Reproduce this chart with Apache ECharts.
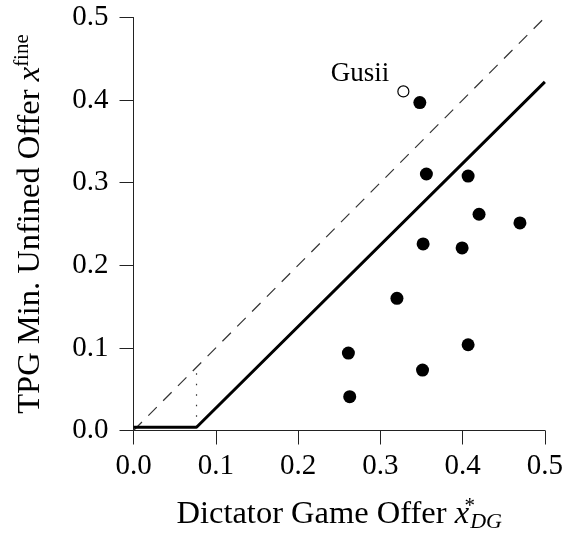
<!DOCTYPE html>
<html><head><meta charset="utf-8">
<script src="https://cdn.jsdelivr.net/npm/echarts@6/dist/echarts.min.js"></script>
<style>html,body{margin:0;padding:0;background:#fff}#c{width:566px;height:540px}</style>
</head><body><div id="c"></div>
<script>
// Data
const societyPoints = [
  [0.348, 0.397], [0.356, 0.3105], [0.4067, 0.308], [0.420, 0.2618],
  [0.4697, 0.2513], [0.352, 0.2259], [0.3994, 0.221], [0.3202, 0.160],
  [0.2612, 0.0937], [0.4067, 0.1038], [0.3513, 0.0732], [0.2628, 0.0409]
];
const gusiiPoint = [[0.328, 0.4105]];
const gusiiLabel = 'Gusii';
const equalityLine = [[0, 0], [0.5, 0.5]];
const predictedLine = [[0, 0.004], [0.0766, 0.004], [0.5, 0.422]];
const thresholdLine = [[0.0766, 0.004], [0.0766, 0.077]];
const axisMin = 0, axisMax = 0.5, axisStep = 0.1;

const FONT = 'Liberation Serif';
const INK = '#000';
const chart = echarts.init(document.getElementById('c'), null, {renderer: 'canvas'});
const axisCommon = {
  type: 'value', min: axisMin, max: axisMax, interval: axisStep,
  axisLine: {show: true, lineStyle: {color: '#222', width: 1}},
  axisTick: {show: true, inside: false, length: 14, lineStyle: {color: '#222', width: 1}},
  splitLine: {show: false},
  axisLabel: {fontFamily: FONT, fontSize: 29, color: INK, formatter: v => v.toFixed(1)}
};
chart.setOption({
  animation: false,
  backgroundColor: '#fff',
  grid: {left: 133.5, right: 20, top: 17.5, bottom: 109.5, containLabel: false},
  xAxis: Object.assign({}, axisCommon, {
    axisLabel: Object.assign({}, axisCommon.axisLabel, {margin: 21}),
    name: 'Dictator Game Offer {i|x}{sup|*}{sub|DG}',
    nameLocation: 'middle', nameGap: 65,
    nameTextStyle: {
      fontFamily: FONT, fontSize: 32.5, color: INK, lineHeight: 38,
      rich: {
        i: {fontFamily: FONT, fontSize: 32.5, fontStyle: 'italic', color: INK, lineHeight: 38},
        sup: {fontFamily: FONT, fontSize: 21, color: INK, verticalAlign: 'top', width: 1, lineHeight: 21},
        sub: {fontFamily: FONT, fontSize: 22, fontStyle: 'italic', color: INK, verticalAlign: 'bottom', lineHeight: 22}
      }
    }
  }),
  yAxis: Object.assign({}, axisCommon, {
    axisLabel: Object.assign({}, axisCommon.axisLabel, {margin: 25}),
    name: 'TPG Min. Unfined Offer {i|x}{sup|fine}',
    nameLocation: 'middle', nameGap: 84, nameRotate: 90,
    nameTextStyle: {
      fontFamily: FONT, fontSize: 32.5, color: INK, lineHeight: 38,
      rich: {
        i: {fontFamily: FONT, fontSize: 32.5, fontStyle: 'italic', color: INK, lineHeight: 38},
        sup: {fontFamily: FONT, fontSize: 21, color: INK, verticalAlign: 'top', lineHeight: 21}
      }
    }
  }),
  series: [
    {type: 'line', data: equalityLine, showSymbol: false, symbol: 'none',
     lineStyle: {color: '#333', width: 1.2, type: [12, 9]}, z: 1, silent: true},
    {type: 'line', data: thresholdLine, showSymbol: false, symbol: 'none',
     lineStyle: {color: '#333', width: 1.2, type: [1.5, 9]}, z: 1, silent: true},
    {type: 'line', data: predictedLine, showSymbol: false, symbol: 'none',
     lineStyle: {color: '#000', width: 3}, z: 2, silent: true},
    {type: 'scatter', data: societyPoints, symbol: 'circle', symbolSize: 13,
     itemStyle: {color: '#000', borderWidth: 0, opacity: 1}, z: 3},
    {type: 'scatter', data: gusiiPoint, symbol: 'circle', symbolSize: 11,
     itemStyle: {color: '#fff', borderColor: '#000', borderWidth: 1.2, opacity: 1}, z: 3,
     label: {show: true, position: 'left', distance: 8, offset: [0, -18],
       formatter: gusiiLabel, fontFamily: FONT, fontSize: 27, color: INK}}
  ]
});
</script></body></html>
